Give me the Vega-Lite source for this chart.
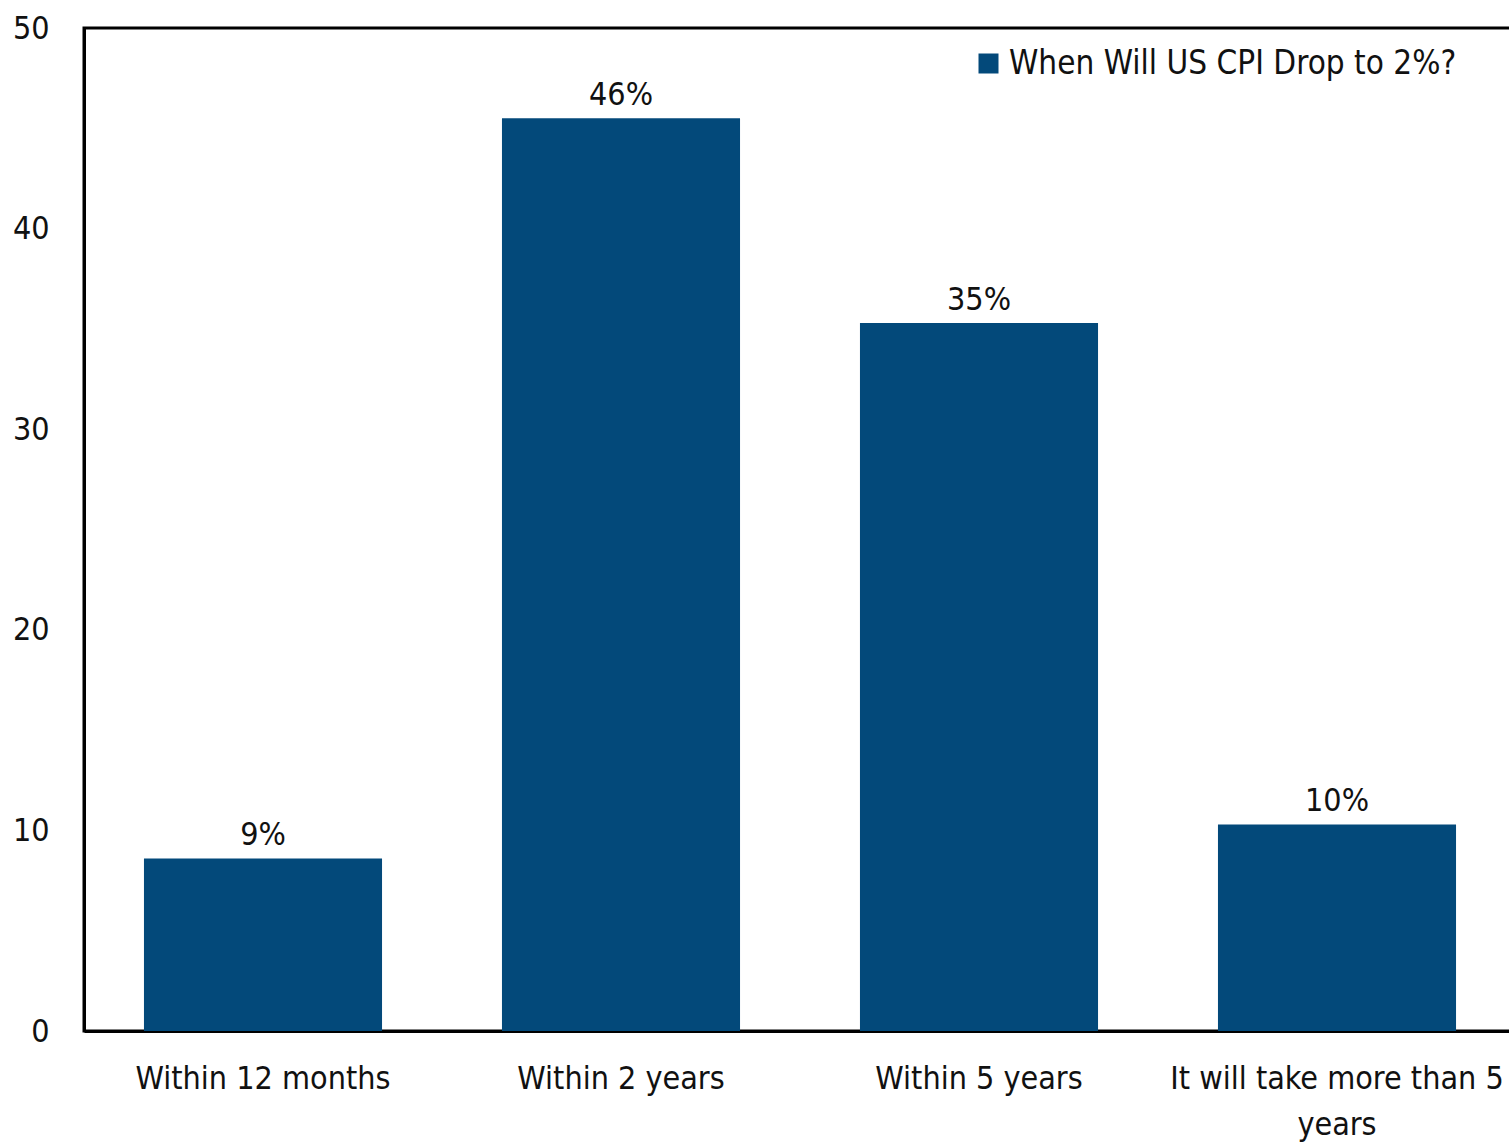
{
  "$schema": "https://vega.github.io/schema/vega-lite/v6.json",
  "autosize": "none",
  "padding": {"left": 84, "top": 28, "right": 0, "bottom": 112},
  "width": 1432,
  "height": 1003,
  "background": "white",
  "config": {
    "font": "'Liberation Sans Narrow', 'Arial Narrow', 'DejaVu Sans Condensed', sans-serif",
    "view": {"stroke": "black", "strokeWidth": 3}
  },
  "data": {
    "values": [
      {"category": "Within 12 months", "value": 8.6, "label": "9%", "series": "When Will US CPI Drop to 2%?"},
      {"category": "Within 2 years", "value": 45.5, "label": "46%", "series": "When Will US CPI Drop to 2%?"},
      {"category": "Within 5 years", "value": 35.3, "label": "35%", "series": "When Will US CPI Drop to 2%?"},
      {"category": "It will take more than 5 years", "value": 10.3, "label": "10%", "series": "When Will US CPI Drop to 2%?"}
    ]
  },
  "encoding": {
    "x": {
      "field": "category", "type": "nominal", "sort": null,
      "scale": {"paddingInner": 0.335, "paddingOuter": 0.1675},
      "axis": {
        "title": null, "labelAngle": 0, "ticks": false, "labelLimit": 0,
        "domainColor": "black", "domainWidth": 3,
        "labelFont": "'Liberation Sans Narrow', 'Arial Narrow', 'DejaVu Sans Condensed', sans-serif",
        "labelFontSize": 32, "labelColor": "#111",
        "labelPadding": 32, "labelLineHeight": 46, "labelBaseline": "top",
        "labelExpr": "datum.label == 'It will take more than 5 years' ? ['It will take more than 5', 'years'] : datum.label"
      }
    },
    "y": {
      "field": "value", "type": "quantitative",
      "scale": {"domain": [0, 50]},
      "axis": {
        "title": null, "values": [0, 10, 20, 30, 40, 50], "grid": false, "ticks": false,
        "domainColor": "black", "domainWidth": 3,
        "labelFont": "'Liberation Sans Narrow', 'Arial Narrow', 'DejaVu Sans Condensed', sans-serif",
        "labelFontSize": 32, "labelColor": "#111",
        "labelPadding": 35
      }
    }
  },
  "layer": [
    {
      "mark": {"type": "bar"},
      "encoding": {
        "color": {
          "field": "series", "type": "nominal",
          "scale": {"range": ["#03497A"]},
          "legend": {
            "title": null, "orient": "none", "legendX": 888, "legendY": 19,
            "symbolType": "square", "symbolSize": 400, "symbolStrokeWidth": 0,
            "labelFont": "'Liberation Sans Narrow', 'Arial Narrow', 'DejaVu Sans Condensed', sans-serif",
            "labelFontSize": 33, "labelColor": "#111",
            "labelLimit": 0, "symbolOffset": 0, "labelOffset": 4
          }
        }
      }
    },
    {
      "mark": {"type": "text", "baseline": "bottom", "dy": -6, "font": "'Liberation Sans Narrow', 'Arial Narrow', 'DejaVu Sans Condensed', sans-serif", "fontSize": 32, "color": "#111"},
      "encoding": {"text": {"field": "label"}}
    }
  ]
}
